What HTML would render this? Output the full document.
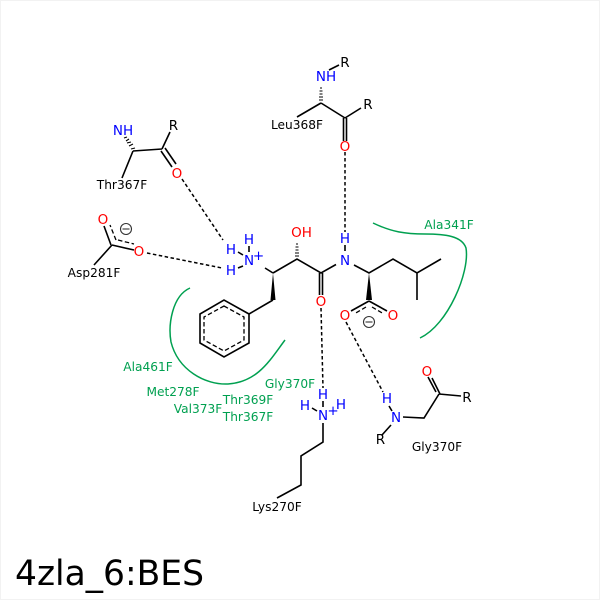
<!DOCTYPE html>
<html><head><meta charset="utf-8"><style>
html,body{margin:0;padding:0;background:#fff}
svg{display:block}
text{font-family:"DejaVu Sans",sans-serif;text-anchor:middle;font-size:12.2px}
.b{fill:#0000ff;font-size:13.5px}.r{fill:#ff0000;font-size:13.5px}.k{fill:#000;font-size:13.5px}
.g{fill:#00a050;font-size:12.2px}.l{fill:#000;font-size:12.2px}
</style></head><body>
<svg width="600" height="600" viewBox="0 0 600 600" xmlns="http://www.w3.org/2000/svg">
<rect x="0.5" y="0.5" width="599" height="599" fill="#fff" stroke="#f2f2f2"/>
<g fill="none" stroke="#00a050" stroke-width="1.5">
<path d="M373 223C392 232 405 234 425 234C445 234 462 236 466 248C470 272 448 325 420 338"/>
<path d="M190 288C172 296 168 325 171 342C178 370 205 385 228 384C258 382 270 360 285 340"/>
</g>
<g fill="none" stroke="#000" stroke-width="1.6">
<path d="M133 151L162 149M162 149L170 132M133 151L122 178M161 151L172 167M165 148L176 164"/>
<path d="M321 103L345 118M345 118L361 108M321 103L297 117M343.5 118V141M346.5 118V141M329 70L339 65"/>
<path d="M273 273L297 259L321 273L336 264.500M354 265L369 273L393 259L417 273L441 259M417 273V300M319.500 273V295M322.500 273V295"/>
<path d="M265 268L273 273M345 245V251M249 246V252M238 252L243 255M238 268L243 266"/>
<path d="M273 300L249 314L249 343L224 357L200 343L200 314L224 300L249 314"/>
<path d="M369 301L351 311M369 301L387 311"/>
<path d="M112 245L94 265M112 245L134 250M111 245L104 226"/>
<path d="M323 423V442L301 456V485L277 498M323 401V407M312 408L317 411"/>
<path d="M389 406L392 411M391 425L382 435M403 417L424 418L439 394M440 394L432 378M436 392L428 377M439 394L461 396"/>
</g>
<g fill="none" stroke="#000" stroke-width="1.3" stroke-dasharray="4.500 2.500">
<path d="M224 306L244 317V340L224 351L204 340V317Z"/>
<path d="M118 240L134 244M116 240L110 225M366 307L354 314M372 307L384 314"/>
</g>
<g fill="none" stroke="#000" stroke-width="1.5" stroke-dasharray="3.500 2.500">
<path d="M182 179L223 240M147 253L222 268M345 152V232M321 308L323 388M346 322L383 392"/>
</g>
<polygon points="273,273 270.500,300 275.500,300" fill="#000"/>
<polygon points="369,273 366,300 372,300" fill="#000"/>
<g stroke="#000" stroke-width="1.1">
<path d="M131 149L135 148M129 146L133 144M127 143L131 142M126 141L129 139M124 138L127 137"/>
<path d="M319 100H323M319 97H323M319.500 94H322.500M319.500 91H322.500M320 88H322"/>
<path d="M295 256H299M295 253H299M295.500 250H298.500M295.500 247H298.500M296 244H298"/>
</g>
<g fill="none" stroke="#333" stroke-width="1.1">
<circle cx="126" cy="229" r="5.500"/><path d="M122.500 229H129.500"/>
<circle cx="369" cy="322" r="5.500"/><path d="M365.500 322H372.500"/>
</g>
<text class="b" x="123" y="135">NH</text><text class="k" x="173.500" y="130">R</text><text class="r" x="177" y="178">O</text>
<text class="b" x="326" y="81">NH</text><text class="k" x="345" y="67">R</text><text class="k" x="368" y="109">R</text><text class="r" x="345" y="151">O</text>
<text class="r" x="103" y="224">O</text><text class="r" x="139" y="256">O</text>
<text class="b" x="231" y="254">H</text><text class="b" x="249" y="244">H</text><text class="b" x="231" y="275">H</text><text class="b" x="249" y="265">N</text><text class="b" x="258.500" y="260">+</text>
<text class="r" x="301.500" y="237">OH</text><text class="r" x="321" y="306">O</text><text class="b" x="345" y="243">H</text><text class="b" x="345" y="265">N</text>
<text class="r" x="345" y="320">O</text><text class="r" x="393" y="320">O</text>
<text class="b" x="323" y="399">H</text><text class="b" x="305" y="410">H</text><text class="b" x="323" y="420">N</text><text class="b" x="333" y="415">+</text><text class="b" x="341" y="409">H</text>
<text class="b" x="387" y="403">H</text><text class="b" x="396" y="422">N</text><text class="k" x="380.500" y="444">R</text><text class="r" x="427" y="376">O</text><text class="k" x="467" y="402">R</text>
<text class="l" x="122" y="189">Thr367F</text><text class="l" x="297" y="129">Leu368F</text><text class="l" x="94" y="277">Asp281F</text><text class="l" x="277" y="511">Lys270F</text><text class="l" x="437" y="451">Gly370F</text>
<text class="g" x="449" y="229">Ala341F</text><text class="g" x="148" y="371">Ala461F</text><text class="g" x="173" y="396">Met278F</text><text class="g" x="198" y="413">Val373F</text><text class="g" x="248" y="404">Thr369F</text><text class="g" x="248" y="421">Thr367F</text><text class="g" x="290" y="388">Gly370F</text>
<text x="15" y="585" style="text-anchor:start;font-size:34.5px;fill:#000">4zla_6:BES</text>
</svg>
</body></html>
